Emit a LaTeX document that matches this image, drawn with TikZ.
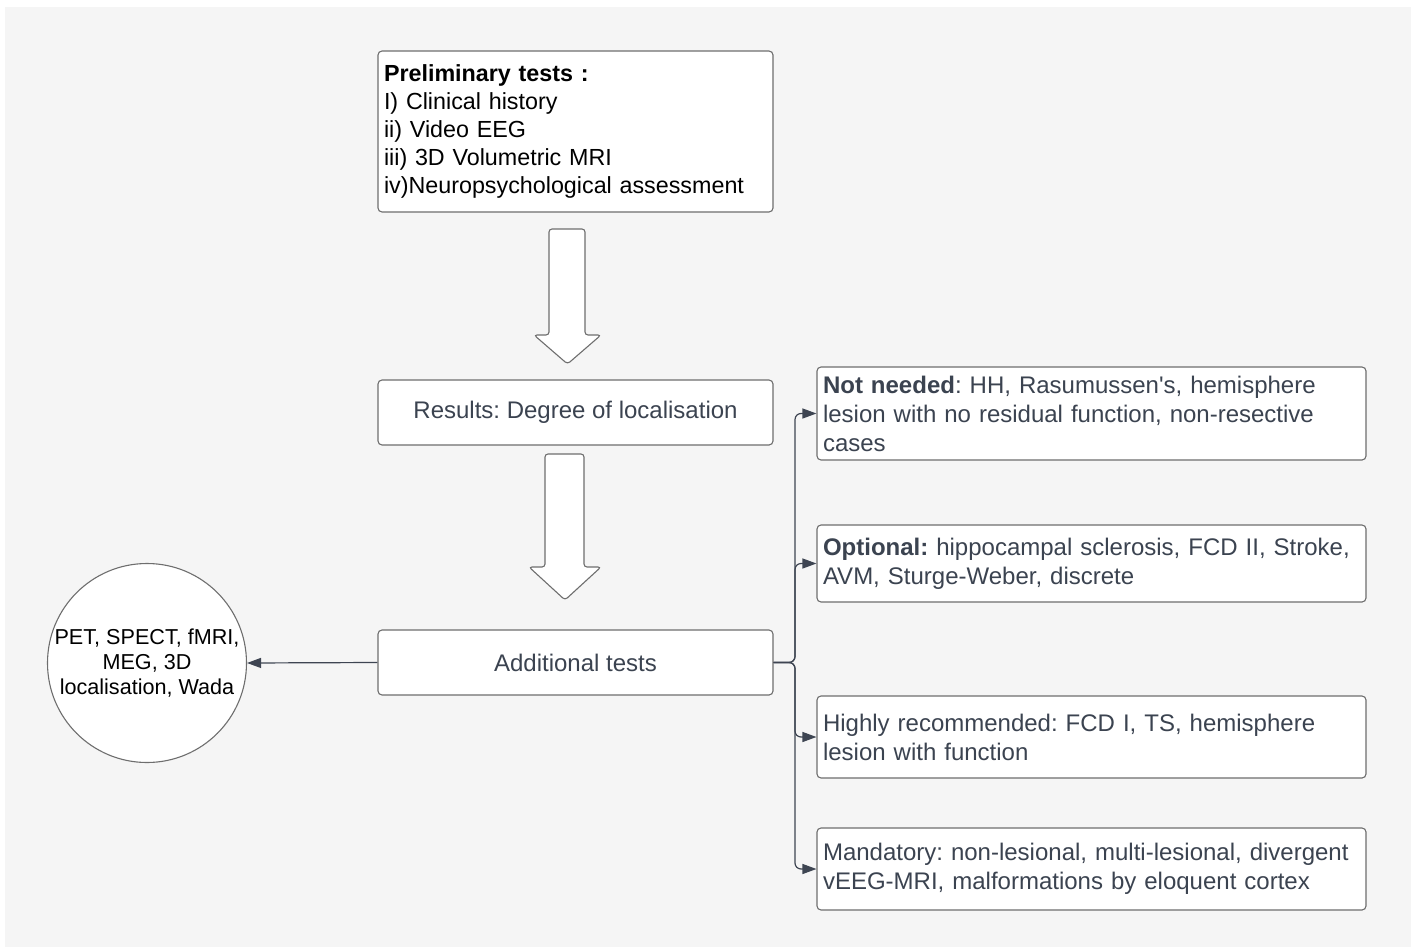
\documentclass[tikz,border=0pt]{standalone}
\usepackage{fontspec}
\setmainfont{Liberation Sans}
\usetikzlibrary{arrows.meta}
\definecolor{bgc}{HTML}{F5F5F5}
\definecolor{bordc}{HTML}{6E6E6E}
\definecolor{txtc}{HTML}{3B4350}
\definecolor{linec}{HTML}{3E4552}
\tikzset{
  box/.style={draw=bordc, line width=1.1pt, fill=white, rounded corners=4pt, inner xsep=6pt, inner ysep=0pt},
  lbox/.style={box, minimum width=549pt, minimum height=#1, text width=537pt, align=left, text=txtc, font=\fontsize{24}{29}\selectfont},
  cbox/.style={box, minimum width=395pt, minimum height=65pt, align=center, text=txtc, font=\fontsize{24}{29}\selectfont},
  blockarrow/.style={draw=bordc, line width=1.1pt, fill=white, rounded corners=3pt},
  conn/.style={draw=linec, line width=1.2pt, -{Triangle[length=14pt,width=10pt]}}
}
\frenchspacing
\begin{document}
\begin{tikzpicture}[x=1pt,y=-1pt]
\useasboundingbox[fill=white] (0,0) rectangle (1413,950);
\fill[bgc] (5,7) rectangle (1411,947);

% top box
\node[box, minimum width=395pt, minimum height=161pt, text width=383pt, align=left, font=\fontsize{23.3}{28}\selectfont, text=black] (pre) at (575.5,131.5)
  {\textbf{Preliminary tests :}\\I) Clinical history\\ii) Video EEG\\iii) 3D Volumetric MRI\\iv)Neuropsychological assessment\\[-4pt]};

\node[cbox] (res) at (575.5,412.5) {Results: Degree of localisation};
\node[cbox] (add) at (575.5,662.5) {Additional tests};

% block arrows
\draw[blockarrow] (549,229) -- (585,229) -- (585,335) -- (601,335) -- (567.5,364) -- (534,335) -- (549,335) -- cycle;
\draw[blockarrow] (545,454) -- (584,454) -- (584,567) -- (601,567) -- (565,600) -- (529,567) -- (545,567) -- cycle;

% circle
\node[draw=bordc, line width=1.1pt, fill=white, circle, minimum size=199pt, inner sep=0pt, align=center, font=\fontsize{21.6}{25}\selectfont, text=black] (circ) at (147,663)
  {PET, SPECT, fMRI,\\MEG, 3D\\localisation, Wada};

% right boxes
\node[lbox=93pt] (b1) at (1091.5,413.5) {\textbf{Not needed}: HH, Rasumussen\textquotesingle s, hemisphere\\lesion with no residual function, non-resective\\cases};
\node[lbox=77pt] (b2) at (1091.5,563.5) {\textbf{Optional:} hippocampal sclerosis, FCD II, Stroke,\\AVM, Sturge-Weber, discrete};
\node[lbox=82pt] (b3) at (1091.5,737) {Highly recommended: FCD I, TS, hemisphere\\lesion with function};
\node[lbox=82pt] (b4) at (1091.5,869) {Mandatory: non-lesional, multi-lesional, divergent\\vEEG-MRI, malformations by eloquent cortex};

% connectors
\coordinate (j) at (795,662.5);
\draw[conn] (add.west) -- (circ.east);
\draw[conn, rounded corners=6pt] (add.east) -- (j) |- (b1.west);
\draw[conn, rounded corners=6pt] (add.east) -- (j) |- (b2.west);
\draw[conn, rounded corners=6pt] (add.east) -- (j) |- (b3.west);
\draw[conn, rounded corners=6pt] (add.east) -- (j) |- (b4.west);
\end{tikzpicture}
\end{document}
